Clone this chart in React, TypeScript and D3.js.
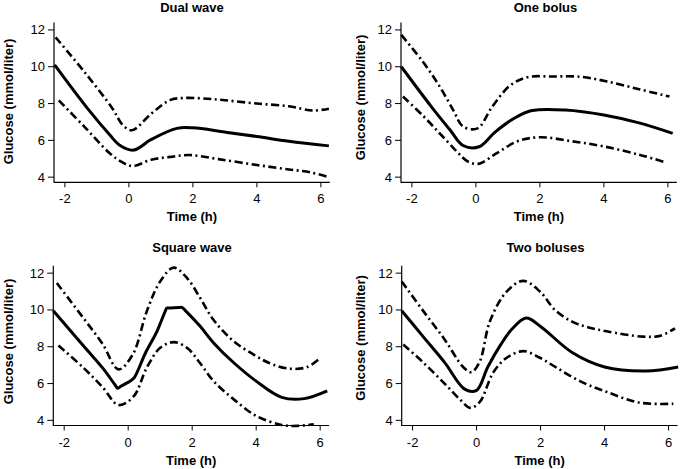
import React from "react";
import * as d3 from "d3";

const xTicks = [-2, 0, 2, 4, 6];
const yTicks = [4, 6, 8, 10, 12];
const panelTitles = ["Dual wave", "One bolus", "Square wave", "Two boluses"];

const dualMean = [[-2.32,10.1],[-1.3,7.75],[-0.6,6.3],[-0.3,5.75],[0.15,5.47],[0.7,6.05],[1.5,6.65],[2.0,6.68],[3,6.45],[4,6.21],[5,5.95],[6.25,5.7]];
const dualUpper = [[-2.29,11.6],[-1.4,9.74],[-0.52,7.75],[-0.2,6.85],[0.1,6.55],[0.7,7.45],[1.3,8.2],[1.7,8.3],[2.3,8.28],[3,8.18],[4,8.0],[5,7.85],[5.75,7.62],[6.25,7.72]];
const dualLower = [[-2.19,8.17],[-1.4,6.76],[-0.6,5.3],[-0.2,4.8],[0.12,4.6],[0.7,4.95],[1.3,5.1],[1.9,5.2],[2.8,4.98],[4,4.66],[5,4.42],[5.7,4.25],[6.25,4.0]];

const oneMean = [[-2.33,10.0],[-1.4,7.85],[-0.8,6.55],[-0.4,5.72],[0.1,5.65],[0.6,6.45],[1.2,7.2],[1.75,7.62],[2.8,7.65],[4,7.38],[5.1,6.95],[6.15,6.38]];
const oneUpper = [[-2.33,11.73],[-1.66,10.28],[-1.14,8.95],[-0.7,7.62],[-0.4,6.75],[0.05,6.65],[0.5,7.8],[1.05,8.95],[1.6,9.43],[2.4,9.47],[3.3,9.45],[4.1,9.2],[5.1,8.78],[6.05,8.38]];
const oneLower = [[-2.28,8.38],[-1.66,7.35],[-1.14,6.4],[-0.6,5.4],[-0.25,4.85],[0.08,4.72],[0.65,5.3],[1.3,5.95],[2.0,6.17],[3.0,5.95],[4,5.67],[5.1,5.22],[5.9,4.82]];

const squareMean = [[-2.34,9.96],[-1.4,8.05],[-0.8,6.85],[-0.42,5.95],[-0.33,5.74],[-0.25,5.83],[0.1,6.18],[0.2,6.35],[0.55,7.7],[0.9,8.84],[1.15,9.9],[1.21,10.1],[1.3,10.11],[1.6,10.13],[1.68,10.14],[1.78,9.98],[2.25,9.11],[2.67,8.21],[3.3,7.13],[4,6.13],[4.8,5.25],[5.5,5.18],[6.22,5.6]];
const squareUpper = [[-2.23,11.46],[-1.4,9.56],[-0.8,8.15],[-0.3,6.77],[0.15,7.6],[0.58,9.92],[1.0,11.55],[1.42,12.3],[1.84,11.73],[2.25,10.65],[2.67,9.45],[3.3,8.3],[4,7.49],[4.5,7.05],[5.07,6.8],[5.6,6.9],[6.01,7.4]];
const squareLower = [[-2.18,8.07],[-1.4,6.86],[-0.8,5.8],[-0.3,4.83],[0.17,5.3],[0.58,6.86],[1.0,7.94],[1.42,8.25],[1.84,7.94],[2.25,7.1],[2.67,6.13],[3.3,5.14],[4,4.24],[4.8,3.75],[5.3,3.7],[5.8,3.79]];

const twoMean = [[-2.34,9.96],[-1.67,8.55],[-1.0,7.15],[-0.36,5.68],[0,5.63],[0.35,6.9],[0.75,8.1],[1.1,8.95],[1.55,9.56],[2.0,9.1],[3.0,7.67],[4.0,6.9],[5.3,6.68],[6.3,6.9]];
const twoUpper = [[-2.34,11.55],[-1.67,9.95],[-1.0,8.4],[-0.42,6.9],[-0.16,6.62],[0.1,7.2],[0.42,9.4],[0.94,11.0],[1.46,11.58],[1.98,11.0],[2.45,10.0],[3.0,9.35],[3.5,9.05],[4.06,8.84],[5.2,8.55],[5.75,8.6],[6.2,9.0]];
const twoLower = [[-2.29,8.12],[-1.67,7.15],[-1.0,6.0],[-0.5,5.1],[-0.2,4.68],[0.1,5.0],[0.52,6.6],[0.94,7.4],[1.46,7.76],[1.98,7.4],[2.5,6.86],[3.23,6.13],[4.06,5.55],[5.1,4.96],[6.15,4.9]];

const seriesByPanel = [
  [dualMean, dualUpper, dualLower],
  [oneMean, oneUpper, oneLower],
  [squareMean, squareUpper, squareLower],
  [twoMean, twoUpper, twoLower],
];

const layouts = [
  { axisX: 54, axisY: 182.3, titleX: 192, titleY: 12, ylabX: 8.5, ylabY: 101.5 },
  { axisX: 401, axisY: 182.3, titleX: 545.5, titleY: 12, ylabX: 360, ylabY: 97.5 },
  { axisX: 53.3, axisY: 425.5, titleX: 192, titleY: 252, ylabX: 8.5, ylabY: 341.5 },
  { axisX: 401.7, axisY: 425.5, titleX: 545.5, titleY: 252, ylabX: 360, ylabY: 338 },
];

const FONT = "'Liberation Sans', Arial, Helvetica, sans-serif";
const X_DOMAIN = [-2.34, 6.28];
const Y_DOMAIN = [3.72, 12.4];
const PX_X = 32;
const PX_Y = 18.4;

function Panel({ idx }: { idx: number }) {
  const L = layouts[idx];
  const x = d3.scaleLinear().domain(X_DOMAIN).range([L.axisX, L.axisX + (X_DOMAIN[1] - X_DOMAIN[0]) * PX_X]);
  const y = d3.scaleLinear().domain(Y_DOMAIN).range([L.axisY, L.axisY - (Y_DOMAIN[1] - Y_DOMAIN[0]) * PX_Y]);
  const line = d3.line<number[]>().x((d) => x(d[0])).y((d) => y(d[1])).curve(d3.curveCatmullRom.alpha(0.5));
  const [mean, upper, lower] = seriesByPanel[idx];
  const [x0, x1] = x.range();
  const [y0, y1] = y.range();
  return (
    <g>
      <text x={L.titleX} y={L.titleY} textAnchor="middle" fontWeight="bold" fontSize={13} fontFamily={FONT}>
        {panelTitles[idx]}
      </text>
      <line x1={L.axisX} x2={L.axisX} y1={y1} y2={y0 + 0.5} stroke="#000" strokeWidth={1.2} />
      <line x1={x0} x2={x1} y1={L.axisY} y2={L.axisY} stroke="#000" strokeWidth={1.2} />
      {yTicks.map((t) => (
        <g key={"y" + t}>
          <line x1={L.axisX - 6} x2={L.axisX} y1={y(t)} y2={y(t)} stroke="#000" strokeWidth={1} />
          <text x={L.axisX - 9} y={y(t) + 4.5} textAnchor="end" fontSize={13} fontFamily={FONT}>
            {t}
          </text>
        </g>
      ))}
      {xTicks.map((t) => (
        <g key={"x" + t}>
          <line x1={x(t)} x2={x(t)} y1={L.axisY} y2={L.axisY + 5} stroke="#000" strokeWidth={1} />
          <text x={x(t)} y={L.axisY + 21} textAnchor="middle" fontSize={13} fontFamily={FONT}>
            {t}
          </text>
        </g>
      ))}
      <text x={(x0 + x1) / 2} y={L.axisY + 39} textAnchor="middle" fontWeight="bold" fontSize={13} fontFamily={FONT}>
        Time (h)
      </text>
      <text
        transform={`translate(${L.ylabX + 4.5},${L.ylabY}) rotate(-90)`}
        textAnchor="middle"
        fontWeight="bold"
        fontSize={13}
        fontFamily={FONT}
      >
        Glucose (mmol/liter)
      </text>
      <path d={line(upper as number[][]) || ""} fill="none" stroke="#000" strokeWidth={2.6} strokeDasharray="8,3.5,2,3.5" />
      <path d={line(lower as number[][]) || ""} fill="none" stroke="#000" strokeWidth={2.6} strokeDasharray="8,3.5,2,3.5" />
      <path d={line(mean as number[][]) || ""} fill="none" stroke="#000" strokeWidth={3} strokeLinejoin="round" />
    </g>
  );
}

export default function App() {
  return (
    <svg
      width={681}
      height={469}
      viewBox="0 0 681 469"
      style={{ position: "absolute", left: 0, top: 0, background: "#fff" }}
    >
      <rect width={681} height={469} fill="#fff" />
      {[0, 1, 2, 3].map((i) => (
        <Panel key={i} idx={i} />
      ))}
    </svg>
  );
}
